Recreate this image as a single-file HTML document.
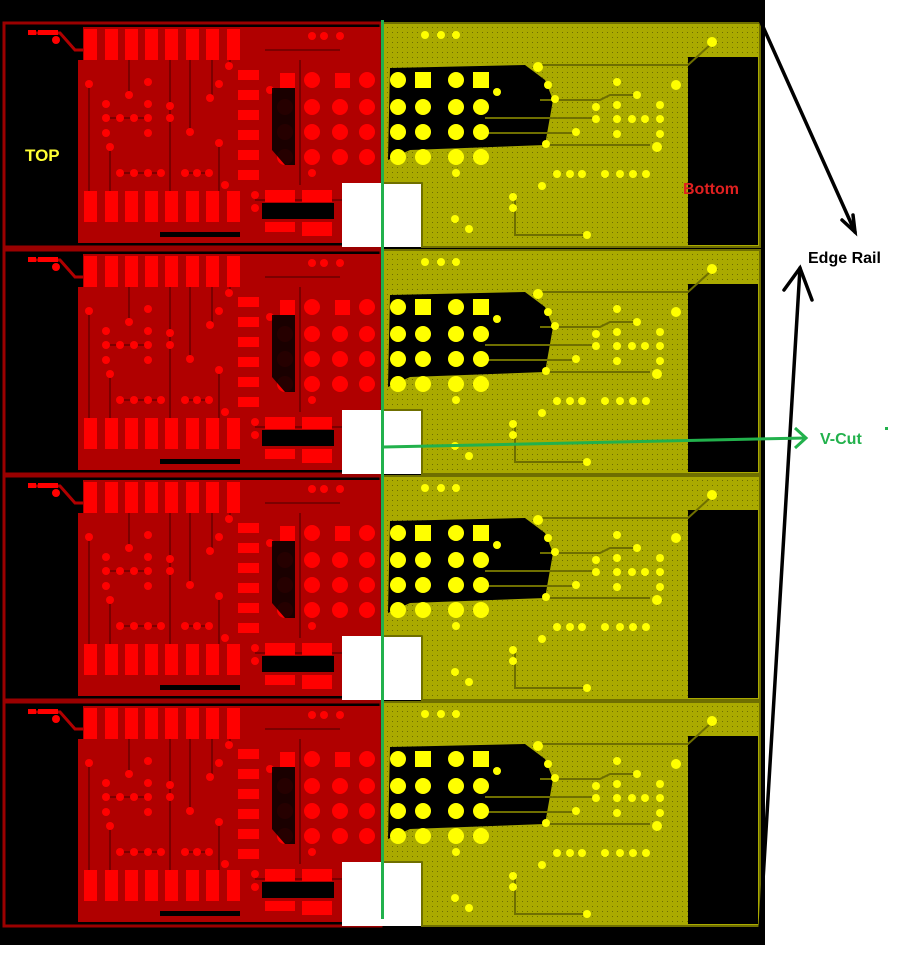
<!DOCTYPE html>
<html><head><meta charset="utf-8">
<style>
html,body{margin:0;padding:0;background:#fff;width:902px;height:960px;overflow:hidden}
svg{display:block}
text{font-family:"Liberation Sans",sans-serif;font-weight:bold}
</style></head><body>
<svg width="902" height="960" viewBox="0 0 902 960" xmlns="http://www.w3.org/2000/svg">
<defs>
<pattern id="dots" width="5" height="5" patternUnits="userSpaceOnUse">
<rect width="5" height="5" fill="#aaaa00"/><rect x="2" y="2" width="1" height="1" fill="#6e6e00"/>
</pattern>
<g id="panel">
  <rect x="4" y="23" width="377" height="224" fill="#000" stroke="#9a0000" stroke-width="3"/>
  <path d="M78,66 L78,243 L342,243 L342,183 L380,183 L380,27 L235,27 L235,60 L78,60 Z" fill="#b00000"/>
  <rect x="83" y="27" width="160" height="36" fill="#b00000"/>
  <path d="M30,33 L60,33 L75,50 L88,50" stroke="#b00000" stroke-width="3" fill="none"/>
  <g stroke="#6a0000" stroke-width="1.5" fill="none">
    <path d="M89,84 L89,191"/><path d="M110,147 L110,191"/><path d="M129,60 L129,95"/>
    <path d="M170,60 L170,191"/><path d="M190,60 L190,132"/><path d="M212,60 L212,98"/>
    <path d="M219,143 L219,191"/><path d="M230,60 L230,66"/><path d="M106,118 L148,118"/>
    <path d="M120,173 L161,173"/><path d="M185,173 L209,173"/><path d="M255,200 L342,200"/>
    <path d="M300,60 L300,185"/><path d="M265,50 L340,50"/>
  </g>
  <g fill="#ff0000">
    <rect x="28" y="30" width="8" height="5"/><rect x="38" y="30" width="20" height="5"/>
    <circle cx="56" cy="40" r="4"/>
    <rect x="84" y="29" width="13" height="31"/><rect x="105" y="29" width="13" height="31"/>
    <rect x="125" y="29" width="13" height="31"/><rect x="145" y="29" width="13" height="31"/>
    <rect x="165" y="29" width="13" height="31"/><rect x="186" y="29" width="13" height="31"/>
    <rect x="206" y="29" width="13" height="31"/><rect x="227" y="29" width="13" height="31"/>
    <rect x="84" y="191" width="13" height="31"/><rect x="105" y="191" width="13" height="31"/>
    <rect x="125" y="191" width="13" height="31"/><rect x="145" y="191" width="13" height="31"/>
    <rect x="165" y="191" width="13" height="31"/><rect x="186" y="191" width="13" height="31"/>
    <rect x="206" y="191" width="13" height="31"/><rect x="227" y="191" width="13" height="31"/>
    <rect x="238" y="70" width="21" height="10"/><rect x="238" y="90" width="21" height="10"/>
    <rect x="238" y="110" width="21" height="10"/><rect x="238" y="130" width="21" height="10"/>
    <rect x="238" y="150" width="21" height="10"/><rect x="238" y="170" width="21" height="10"/>
    <circle cx="89" cy="84" r="4"/><circle cx="129" cy="95" r="4"/><circle cx="148" cy="82" r="4"/>
    <circle cx="106" cy="104" r="4"/><circle cx="106" cy="118" r="4"/><circle cx="120" cy="118" r="4"/>
    <circle cx="134" cy="118" r="4"/><circle cx="148" cy="104" r="4"/><circle cx="148" cy="118" r="4"/>
    <circle cx="106" cy="133" r="4"/><circle cx="148" cy="133" r="4"/><circle cx="110" cy="147" r="4"/>
    <circle cx="170" cy="106" r="4"/><circle cx="170" cy="118" r="4"/><circle cx="190" cy="132" r="4"/>
    <circle cx="219" cy="84" r="4"/><circle cx="210" cy="98" r="4"/><circle cx="229" cy="66" r="4"/>
    <circle cx="219" cy="143" r="4"/>
    <circle cx="120" cy="173" r="4"/><circle cx="134" cy="173" r="4"/><circle cx="148" cy="173" r="4"/><circle cx="161" cy="173" r="4"/>
    <circle cx="185" cy="173" r="4"/><circle cx="197" cy="173" r="4"/><circle cx="209" cy="173" r="4"/>
    <circle cx="225" cy="185" r="4"/>
    <circle cx="312" cy="36" r="4"/><circle cx="324" cy="36" r="4"/><circle cx="340" cy="36" r="4"/>
    <rect x="280" y="73" width="15" height="15"/><rect x="335" y="73" width="15" height="15"/>
    <circle cx="312" cy="80" r="8"/><circle cx="367" cy="80" r="8"/>
    <circle cx="285" cy="107" r="8"/><circle cx="312" cy="107" r="8"/><circle cx="340" cy="107" r="8"/><circle cx="367" cy="107" r="8"/>
    <circle cx="285" cy="132" r="8"/><circle cx="312" cy="132" r="8"/><circle cx="340" cy="132" r="8"/><circle cx="367" cy="132" r="8"/>
    <circle cx="285" cy="157" r="8"/><circle cx="312" cy="157" r="8"/><circle cx="340" cy="157" r="8"/><circle cx="367" cy="157" r="8"/>
    <circle cx="270" cy="90" r="4"/><circle cx="312" cy="173" r="4"/>
    <rect x="265" y="190" width="30" height="12"/><rect x="302" y="190" width="30" height="12"/>
    <rect x="265" y="222" width="30" height="10"/><rect x="302" y="222" width="30" height="14"/>
    <circle cx="255" cy="195" r="4"/><circle cx="255" cy="208" r="4"/>
  </g>
  <path d="M272,88 L295,88 L295,165 L285,165 L272,150 Z" fill="#000" opacity="0.85"/>
  <rect x="262" y="203" width="72" height="16" fill="#000"/>
  <rect x="160" y="232" width="80" height="5" fill="#000"/>
  <rect x="342" y="183" width="80" height="64" fill="#fff"/>
  <path d="M383,23 L760,23 L760,247 L422,247 L422,183 L383,183 Z" fill="url(#dots)" stroke="#6f6f00" stroke-width="2"/>
  <rect x="688" y="57" width="70" height="188" fill="#000"/>
  <rect x="705" y="26" width="52" height="30" fill="url(#dots)"/>
  <path d="M390,68 L525,65 L545,80 L553,100 L545,145 L410,150 L388,160 Z" fill="#000"/>
  <g stroke="#6f6f00" stroke-width="2" fill="none">
    <path d="M535,65 L688,65 L710,45"/><path d="M540,100 L600,100 L610,95 L640,95"/>
    <path d="M485,118 L600,118"/><path d="M485,133 L575,133"/>
    <path d="M545,145 L650,145"/><path d="M515,200 L515,235 L585,235"/>
  </g>
  <g fill="#ffff00">
    <circle cx="425" cy="35" r="4"/><circle cx="441" cy="35" r="4"/><circle cx="456" cy="35" r="4"/>
    <circle cx="712" cy="42" r="5"/><circle cx="538" cy="67" r="5"/><circle cx="676" cy="85" r="5"/>
    <circle cx="398" cy="80" r="8"/><rect x="415" y="72" width="16" height="16"/>
    <circle cx="456" cy="80" r="8"/><rect x="473" y="72" width="16" height="16"/>
    <circle cx="398" cy="107" r="8"/><circle cx="423" cy="107" r="8"/><circle cx="456" cy="107" r="8"/><circle cx="481" cy="107" r="8"/>
    <circle cx="398" cy="132" r="8"/><circle cx="423" cy="132" r="8"/><circle cx="456" cy="132" r="8"/><circle cx="481" cy="132" r="8"/>
    <circle cx="398" cy="157" r="8"/><circle cx="423" cy="157" r="8"/><circle cx="456" cy="157" r="8"/><circle cx="481" cy="157" r="8"/>
    <circle cx="497" cy="92" r="4"/><circle cx="548" cy="85" r="4"/><circle cx="555" cy="99" r="4"/>
    <circle cx="596" cy="107" r="4"/><circle cx="596" cy="119" r="4"/><circle cx="576" cy="132" r="4"/>
    <circle cx="546" cy="144" r="4"/><circle cx="617" cy="82" r="4"/><circle cx="637" cy="95" r="4"/>
    <circle cx="617" cy="105" r="4"/><circle cx="617" cy="119" r="4"/><circle cx="632" cy="119" r="4"/>
    <circle cx="645" cy="119" r="4"/><circle cx="660" cy="119" r="4"/><circle cx="660" cy="105" r="4"/>
    <circle cx="617" cy="134" r="4"/><circle cx="660" cy="134" r="4"/><circle cx="657" cy="147" r="5"/>
    <circle cx="456" cy="173" r="4"/>
    <circle cx="557" cy="174" r="4"/><circle cx="570" cy="174" r="4"/><circle cx="582" cy="174" r="4"/>
    <circle cx="605" cy="174" r="4"/><circle cx="620" cy="174" r="4"/><circle cx="633" cy="174" r="4"/><circle cx="646" cy="174" r="4"/>
    <circle cx="542" cy="186" r="4"/><circle cx="513" cy="197" r="4"/><circle cx="513" cy="208" r="4"/>
    <circle cx="455" cy="219" r="4"/><circle cx="469" cy="229" r="4"/><circle cx="587" cy="235" r="4"/>
  </g>
</g>
</defs>
<rect x="0" y="0" width="765" height="945" fill="#000"/>
<use href="#panel"/>
<use href="#panel" transform="translate(0,227)"/>
<use href="#panel" transform="translate(0,453)"/>
<use href="#panel" transform="translate(0,679)"/>
<rect x="381" y="20" width="3" height="899" fill="#22b14c"/>
<text x="25" y="161" font-size="17" fill="#ffff33">TOP</text>
<text x="683" y="194" font-size="16" fill="#e02020">Bottom</text>
<g stroke="#000" stroke-width="3.5" fill="none" stroke-linecap="round">
  <line x1="760" y1="20" x2="855" y2="232"/>
  <polyline points="842,220 855,232 853,215"/>
  <line x1="760" y1="930" x2="800" y2="268"/>
  <polyline points="784,290 800,268 812,300"/>
</g>
<text x="808" y="263" font-size="16" fill="#000">Edge Rail</text>
<g stroke="#22b14c" stroke-width="3" fill="none">
  <line x1="383" y1="447" x2="806" y2="438"/>
  <polyline points="795,428 806,438 795,448"/>
</g>
<text x="820" y="444" font-size="16" fill="#22b14c">V-Cut</text>
<rect x="885" y="427" width="3" height="3" fill="#22b14c"/>
</svg>
</body></html>
